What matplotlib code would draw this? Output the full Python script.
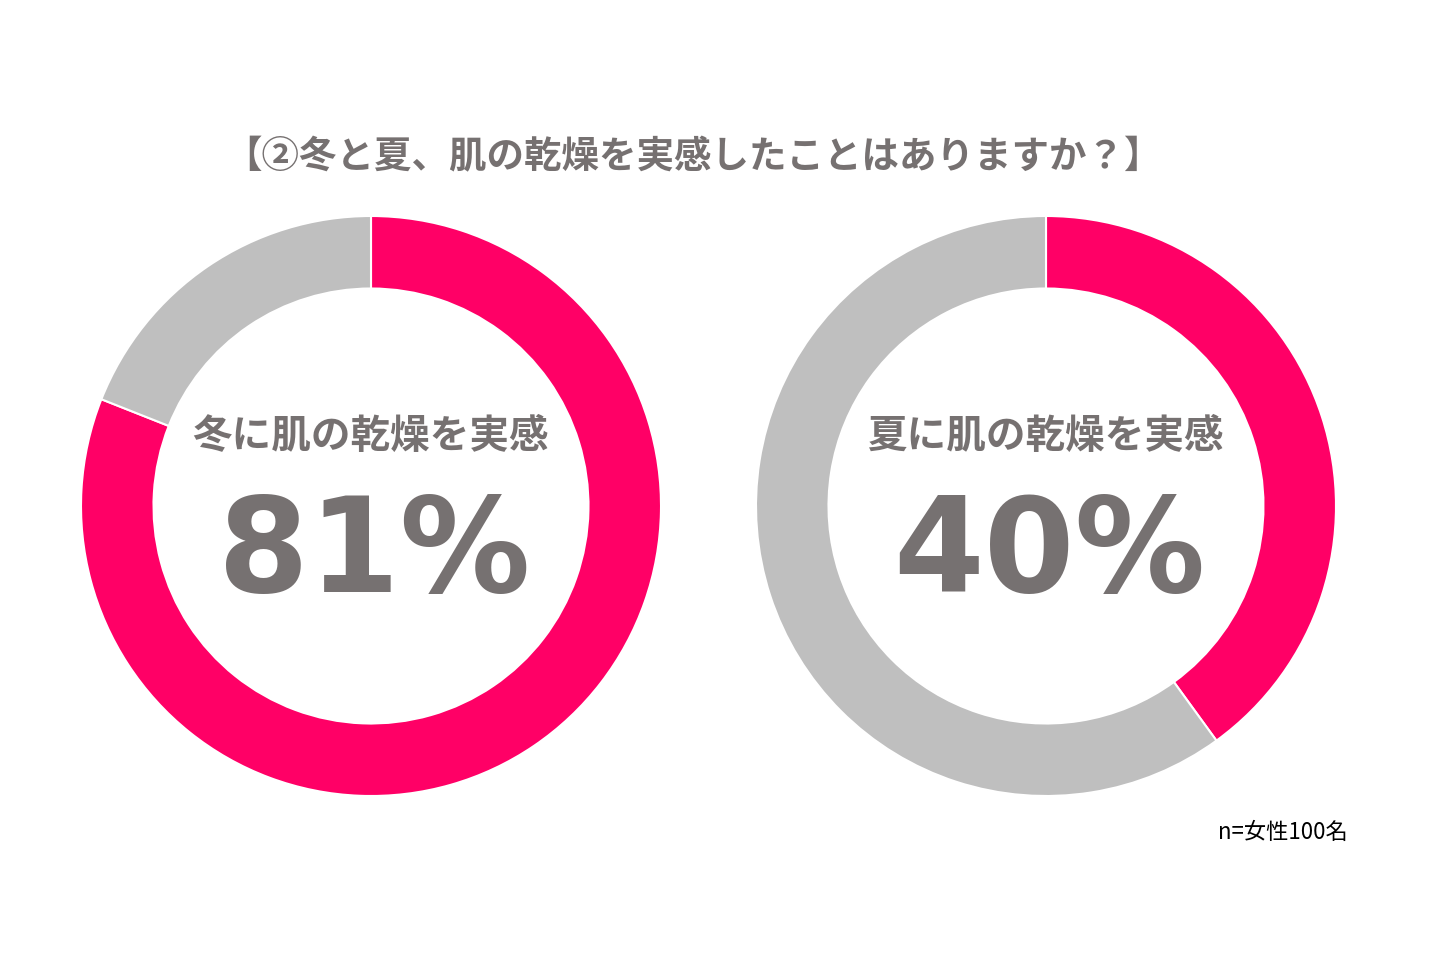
import matplotlib
matplotlib.use("Agg")
import matplotlib.pyplot as plt

plt.rcParams['font.family'] = ['Noto Sans CJK JP', 'DejaVu Sans']

title = "【②冬と夏、肌の乾燥を実感したことはありますか？】"
labels = ["冬に肌の乾燥を実感", "夏に肌の乾燥を実感"]
values = [81, 40]
note = "n=女性100名"

PINK = "#FF0066"
GRAY = "#BFBFBF"
TEXT = "#767171"

W, H = 1440, 960
fig = plt.figure(figsize=(14.4, 9.6), dpi=100)
fig.patch.set_facecolor("white")

centers = [(371, 506), (1046, 506)]
R = 290
for (cx, cy), lab, v in zip(centers, labels, values):
    ax = fig.add_axes([(cx - R) / W, (H - cy - R) / H, 2 * R / W, 2 * R / H])
    ax.pie([v, 100 - v], colors=[PINK, GRAY], startangle=90, counterclock=False,
           radius=1.0, wedgeprops=dict(width=0.25, edgecolor="white", linewidth=1.5))
    ax.set_xlim(-1, 1)
    ax.set_ylim(-1, 1)
    ax.set_aspect("equal")
    ax.axis("off")
    ax.text(0, 0.24, lab, ha="center", va="center", fontsize=28.5, fontweight="bold",
            color=TEXT)
    ax.text(0.01, -0.17, f"{v}%", ha="center", va="center", fontsize=94, fontweight="bold",
            color=TEXT, family="DejaVu Sans")

fig.text(693 / W, 1 - 157 / H, title, ha="center", va="center", fontsize=27,
         fontweight="bold", color=TEXT)
fig.text(1283 / W, 1 - 832 / H, note, ha="center", va="center", fontsize=16, color="black")

fig.savefig("out.png", dpi=100, facecolor="white")
